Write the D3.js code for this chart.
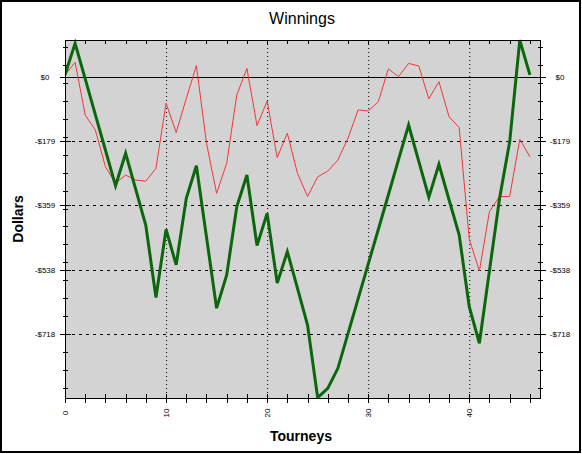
<!DOCTYPE html>
<html lang="en">
<head>
  <meta charset="UTF-8">
  <title>Winnings</title>
  <script src="https://d3js.org/d3.v7.min.js"></script>
  <style>
    body { margin: 0; background: #fff; }
    text { font-family: "Liberation Sans", Arial, sans-serif; }
  </style>
</head>
<body>
  <script>
    "use strict";
    // cumulative winnings per tourney (thick green) and the thin red series
    var greenVals = [6, 94, -5, -105, -204, -304, -213, -314, -415, -616, -426, -525, -339, -248, -447, -646,
      -553, -362, -274, -471, -381, -576, -488, -590, -693, -896, -870, -814, -717, -620, -523, -426,
      -329, -231, -134, -235, -336, -244, -343, -441, -642, -744, -541, -339, -181, 103, 6];
    var redVals = [6, 41, -106, -148, -251, -297, -274, -288, -291, -255, -73, -155, -60, 32, -185, -325,
      -241, -50, 24, -136, -67, -225, -157, -269, -334, -279, -263, -232, -171, -92, -95, -69,
      23, 1, 38, 31, -61, -13, -111, -141, -453, -542, -376, -334, -334, -174, -223];
    var yTickVals = [0, -179.4, -358.8, -538.2, -717.6];
    var yTickLabels = ["$0", "-$179", "-$359", "-$538", "-$718"];
    var xTickVals = [0, 10, 20, 30, 40];

    var W = 582, H = 454;
    var L = 65, R = 540, T = 40, B = 398;

    var svg = d3.select('body').append('svg')
      .attr('width', W)
      .attr('height', H);

    // outer frame
    svg.append('rect')
      .attr('x', 1).attr('y', 1)
      .attr('width', 579).attr('height', 451)
      .attr('fill', '#fff')
      .attr('stroke', '#000')
      .attr('stroke-width', 2);

    var x = d3.scaleLinear().domain([0, 47]).range([L, R]);
    var y = d3.scaleLinear().domain([-897, 103.5]).range([B, T]);

    // plot background
    svg.append('rect')
      .attr('x', L).attr('y', T)
      .attr('width', R - L).attr('height', B - T)
      .attr('fill', '#d3d3d3');

    // grid
    svg.selectAll('line.vgrid')
      .data(xTickVals.slice(1))
      .enter().append('line')
      .attr('x1', function (d) { return x(d) + 0.5; })
      .attr('x2', function (d) { return x(d) + 0.5; })
      .attr('y1', T).attr('y2', B)
      .attr('stroke', '#000')
      .attr('stroke-dasharray', '1,3');
    svg.selectAll('line.hgrid')
      .data(yTickVals.slice(1))
      .enter().append('line')
      .attr('x1', L).attr('x2', R)
      .attr('y1', function (d) { return Math.round(y(d)) + 0.5; })
      .attr('y2', function (d) { return Math.round(y(d)) + 0.5; })
      .attr('stroke', '#000')
      .attr('stroke-dasharray', '3,4');
    // zero line
    svg.append('line')
      .attr('x1', L - 5).attr('x2', R + 3)
      .attr('y1', Math.round(y(0)) + 0.5).attr('y2', Math.round(y(0)) + 0.5)
      .attr('stroke', '#000');

    // minor ticks on both y axes
    var minorY = d3.range(-869, 100, 50.15);
    [L, R].forEach(function (ax) {
      svg.selectAll(null)
        .data(minorY)
        .enter().append('line')
        .attr('x1', ax - 2).attr('x2', ax + 3)
        .attr('y1', function (d) { return Math.round(y(d)) + 0.5; })
        .attr('y2', function (d) { return Math.round(y(d)) + 0.5; })
        .attr('stroke', '#000');
      svg.selectAll(null)
        .data(yTickVals)
        .enter().append('line')
        .attr('x1', ax - 5).attr('x2', ax + 6)
        .attr('y1', function (d) { return Math.round(y(d)) + 0.5; })
        .attr('y2', function (d) { return Math.round(y(d)) + 0.5; })
        .attr('stroke', '#000');
    });

    // x ticks every 2 tourneys, bottom and top
    var minorX = d3.range(0, 47, 2);
    svg.selectAll(null)
      .data(minorX)
      .enter().append('line')
      .attr('x1', function (d) { return Math.round(x(d)) + 0.5; })
      .attr('x2', function (d) { return Math.round(x(d)) + 0.5; })
      .attr('y1', B - 4).attr('y2', B + 5)
      .attr('stroke', '#000');
    svg.selectAll(null)
      .data(minorX)
      .enter().append('line')
      .attr('x1', function (d) { return Math.round(x(d)) + 0.5; })
      .attr('x2', function (d) { return Math.round(x(d)) + 0.5; })
      .attr('y1', T).attr('y2', T + 4)
      .attr('stroke', '#000');

    // lines
    var line = d3.line()
      .x(function (d, i) { return x(i); })
      .y(function (d) { return y(d); });
    var clip = svg.append('clipPath').attr('id', 'plotclip')
      .append('rect').attr('x', L).attr('y', T - 2).attr('width', R - L).attr('height', B - T + 2);
    svg.append('path')
      .datum(redVals)
      .attr('fill', 'none')
      .attr('stroke', '#f03838')
      .attr('stroke-width', 1)
      .attr('d', line);
    svg.append('path')
      .datum(greenVals)
      .attr('fill', 'none')
      .attr('stroke', '#0b670b')
      .attr('stroke-width', 3)
      .attr('stroke-linejoin', 'miter')
      .attr('clip-path', 'url(#plotclip)')
      .attr('d', line);

    // plot border
    svg.append('rect')
      .attr('x', L + 0.5).attr('y', T + 0.5)
      .attr('width', R - L).attr('height', B - T)
      .attr('fill', 'none')
      .attr('stroke', '#000');

    // y labels, both sides
    [45, 560].forEach(function (cx) {
      svg.selectAll(null)
        .data(yTickVals)
        .enter().append('text')
        .attr('x', cx)
        .attr('y', function (d) { return y(d) + 3; })
        .attr('text-anchor', 'middle')
        .attr('font-size', '8px')
        .text(function (d, i) { return yTickLabels[i]; });
    });

    // x labels, rotated
    svg.selectAll(null)
      .data(xTickVals)
      .enter().append('text')
      .attr('transform', function (d) { return 'translate(' + (x(d) + 3) + ',413) rotate(-90)'; })
      .attr('text-anchor', 'middle')
      .attr('font-size', '8px')
      .text(function (d) { return d; });

    // titles
    svg.append('text')
      .attr('x', 302).attr('y', 24)
      .attr('text-anchor', 'middle')
      .attr('font-size', '16px')
      .text('Winnings');
    svg.append('text')
      .attr('x', 301).attr('y', 441)
      .attr('text-anchor', 'middle')
      .attr('font-size', '14px')
      .attr('font-weight', 'bold')
      .text('Tourneys');
    svg.append('text')
      .attr('transform', 'translate(23,219) rotate(-90)')
      .attr('text-anchor', 'middle')
      .attr('font-size', '14px')
      .attr('font-weight', 'bold')
      .text('Dollars');
  </script>
</body>
</html>
